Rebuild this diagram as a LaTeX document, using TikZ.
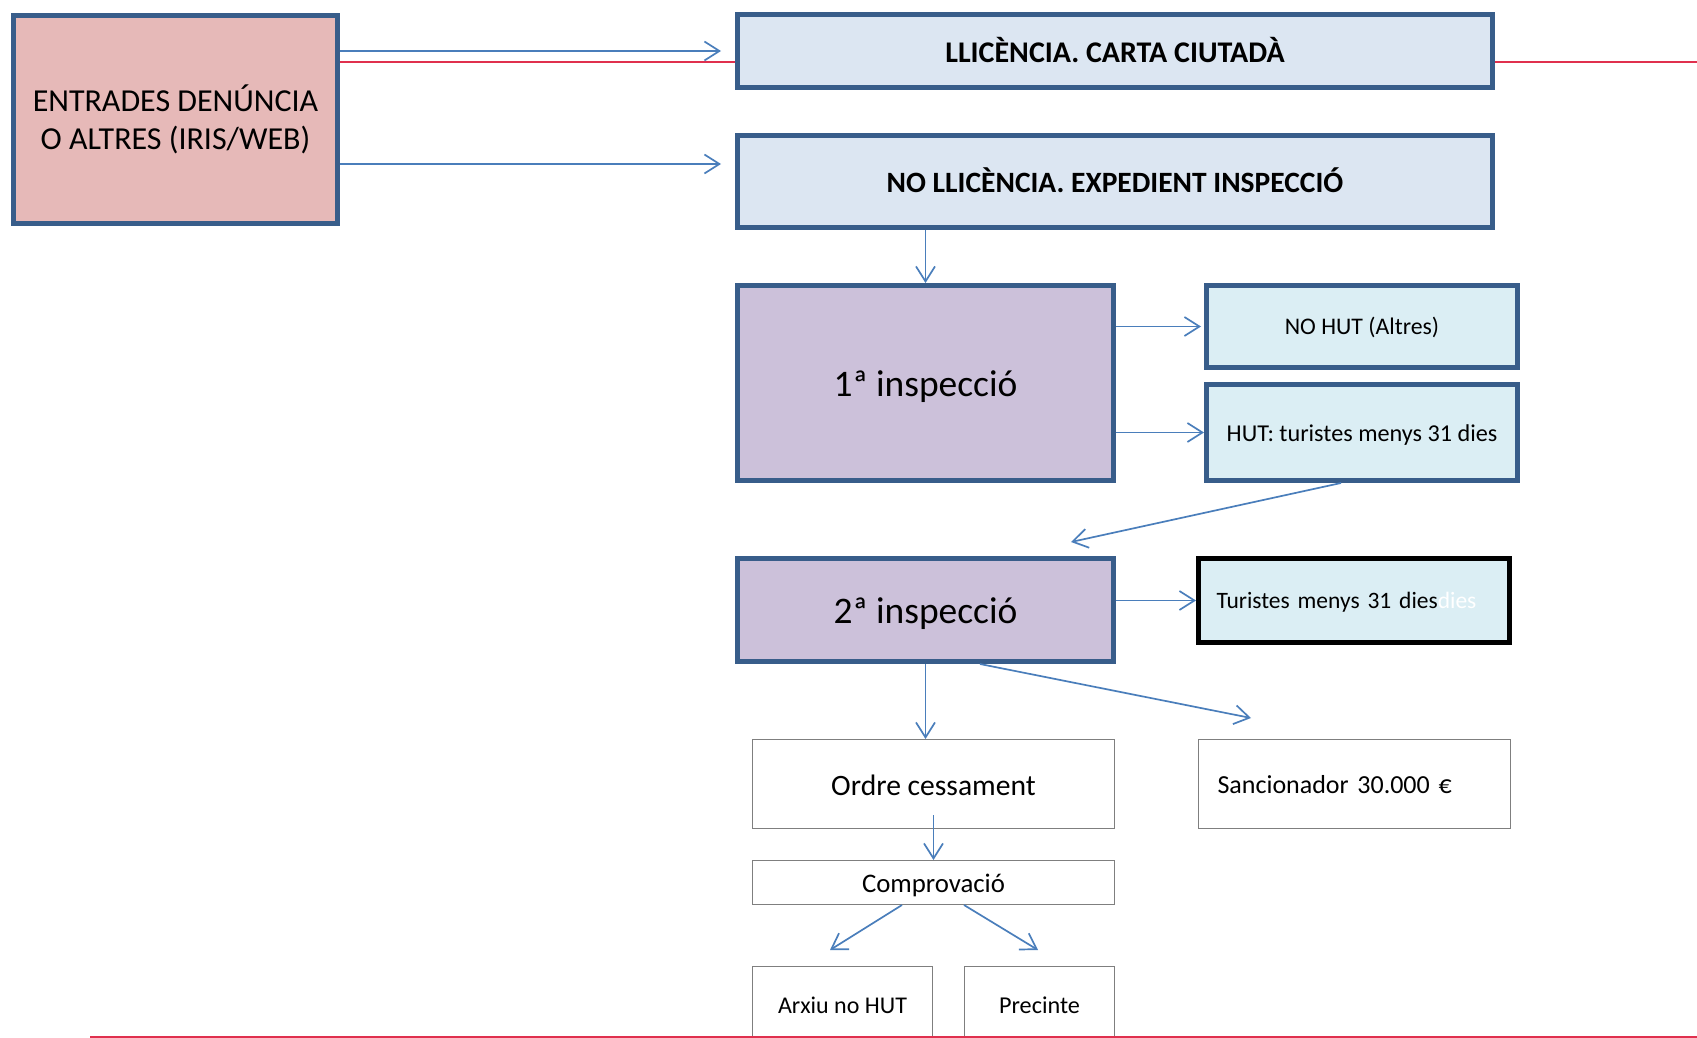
\documentclass[tikz,border=0pt]{standalone}
\usepackage{fontspec}
\setmainfont{Carlito}
\usetikzlibrary{arrows.meta}
\definecolor{bord}{HTML}{385D8A}
\definecolor{pinkfill}{HTML}{E6B9B8}
\definecolor{lbfill}{HTML}{DCE6F2}
\definecolor{purfill}{HTML}{CCC1DA}
\definecolor{cyfill}{HTML}{DBEEF4}
\definecolor{arrblue}{HTML}{4A7EBB}
\definecolor{redl}{HTML}{E0304E}
\definecolor{grayb}{HTML}{7F7F7F}
\newcommand{\lowerby}[2]{\raisebox{-#1}[\height][\depth]{#2}}
\tikzset{
  bigbox/.style={draw=bord, line width=5pt, inner sep=0pt, align=center, text=black},
  thinbox/.style={draw=grayb, line width=1pt, fill=white, inner sep=0pt, align=center, text=black},
  conn/.style={draw=arrblue, line width=1.7pt, -{Straight Barb[length=15pt,width=19pt]}},
  redline/.style={draw=redl, line width=2.5pt}
}
\begin{document}
\begin{tikzpicture}[x=1pt,y=-1pt]
\useasboundingbox (0,0) rectangle (1697,1038);
% red line behind top boxes
\draw[redline] (340,62) -- (1697,62);

\node[bigbox, fill=pinkfill, minimum width=324pt, minimum height=208pt,
      font=\fontsize{32}{38}\selectfont] (pink) at (175.5,119.5)
      {ENTRADES DENÚNCIA\\O ALTRES (IRIS/WEB)};
\node[bigbox, fill=lbfill, minimum width=755pt, minimum height=73pt,
      font=\fontsize{30}{36}\selectfont\bfseries] (llic) at (1115,51)
      {\lowerby{-1pt}{LLICÈNCIA. CARTA CIUTADÀ}};
\node[bigbox, fill=lbfill, minimum width=755pt, minimum height=92pt,
      font=\fontsize{29.5}{36}\selectfont\bfseries] (nollic) at (1115,181.5)
      {\lowerby{-1pt}{NO LLICÈNCIA. EXPEDIENT INSPECCIÓ}};
\node[bigbox, fill=purfill, minimum width=376pt, minimum height=195pt,
      font=\fontsize{37.5}{45}\selectfont] (insp1) at (925.5,383)
      {\lowerby{4pt}{1ª inspecció}};
\node[bigbox, fill=cyfill, minimum width=311pt, minimum height=82pt,
      font=\fontsize{23.8}{29}\selectfont] (nohut) at (1362,326.5)
      {\lowerby{1pt}{NO HUT (Altres)}};
\node[bigbox, fill=cyfill, minimum width=311pt, minimum height=96pt,
      font=\fontsize{24.2}{29}\selectfont] (hut) at (1362,432.5)
      {\lowerby{3pt}{HUT: turistes menys 31 dies}};
\node[bigbox, fill=purfill, minimum width=376pt, minimum height=103pt,
      font=\fontsize{37.5}{45}\selectfont] (insp2) at (925.5,610)
      {\lowerby{4pt}{2ª inspecció}};
\node[bigbox, draw=black, line width=5pt, fill=cyfill, minimum width=311pt, minimum height=84pt,
      inner xsep=18pt, text width=275pt, align=left,
      font=\fontsize{23.5}{28}\selectfont] (tur) at (1354,600.5)
      {\lowerby{2pt}{Turistes menys 31 dies\textcolor{white}{dies}}};
\node[thinbox, minimum width=362pt, minimum height=89pt,
      font=\fontsize{29.6}{35}\selectfont] (ordre) at (933.5,784)
      {\lowerby{1pt}{Ordre cessament}};
\node[thinbox, minimum width=312pt, minimum height=89pt,
      inner xsep=19pt, text width=274pt, align=left,
      font=\fontsize{26}{31}\selectfont] (sanc) at (1354.5,784)
      {\lowerby{1pt}{Sancionador 30.000 €}};
\node[thinbox, minimum width=362pt, minimum height=44pt,
      font=\fontsize{26.8}{32}\selectfont] (comp) at (933.5,882.5)
      {\lowerby{3pt}{Comprovació}};
\node[thinbox, minimum width=180pt, minimum height=76pt,
      font=\fontsize{24}{29}\selectfont] (arxiu) at (842.5,1004)
      {\lowerby{1pt}{Arxiu no HUT}};
\node[thinbox, minimum width=150pt, minimum height=76pt,
      font=\fontsize{24.2}{29}\selectfont] (prec) at (1039.5,1004)
      {\lowerby{1pt}{Precinte}};

\coordinate (f1) at (1071,542);
\coordinate (f2) at (1251,718);
\coordinate (f3) at (830,950);
\coordinate (f4) at (1038,950);

\draw[conn, shorten >=14pt] (pink.east |- llic.west) -- (llic.west);
\draw[conn, shorten >=14pt] (pink.east |- 0,164) -- (nollic.west |- 0,164);
\draw[conn] (insp1.north |- nollic.south) -- (insp1.north);
\draw[conn, shorten >=3pt] (insp1.east |- nohut.west) -- (nohut.west);
\draw[conn] (insp1.east |- hut.west) -- (hut.west);
\draw[conn] ([xshift=-21pt]hut.south) -- (f1);
\draw[conn] (insp2.east |- tur.west) -- (tur.west);
\draw[conn] (insp2.south) -- (insp2.south |- ordre.north);
\draw[conn] ([xshift=54.5pt]insp2.south) -- (f2);
\draw[conn] ([yshift=14pt]ordre.south) -- (comp.north);
\draw[conn] ([xshift=-31.5pt]comp.south) -- (f3);
\draw[conn] ([xshift=30.5pt]comp.south) -- (f4);

\draw[redline] (90,1037) -- (1697,1037);
\end{tikzpicture}
\end{document}
